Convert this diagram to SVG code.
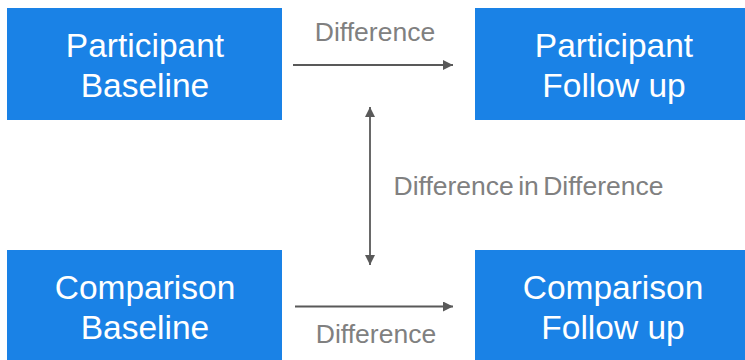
<svg xmlns="http://www.w3.org/2000/svg" width="745" height="360" viewBox="0 0 745 360">
<style>
.box{fill:#1a82e6}
.t{font-family:"Liberation Sans",Arial,sans-serif;font-size:33.5px;fill:#ffffff;text-anchor:middle}
.l{font-family:"Liberation Sans",Arial,sans-serif;font-size:26.5px;fill:#808080;text-anchor:middle}
.c{stroke:#595959;stroke-width:1.8;fill:none}
</style>
<defs>
<marker id="ah" viewBox="0 0 10 10" refX="10" refY="5" markerWidth="10" markerHeight="10" markerUnits="userSpaceOnUse" orient="auto-start-reverse">
<path d="M0,0 L10,5 L0,10 z" fill="#595959"/>
</marker>
</defs>
<rect width="745" height="360" fill="#ffffff"/>
<g id="participant-baseline">
<rect class="box" x="7" y="8" width="275" height="112"/>
<text class="t" x="145" y="57">Participant</text>
<text class="t" x="145" y="97">Baseline</text>
</g>
<g id="participant-followup">
<rect class="box" x="475" y="8" width="275" height="112"/>
<text class="t" x="614" y="57">Participant</text>
<text class="t" x="614" y="97">Follow up</text>
</g>
<g id="comparison-baseline">
<rect class="box" x="7" y="250" width="275" height="112"/>
<text class="t" x="145" y="299">Comparison</text>
<text class="t" x="145" y="339">Baseline</text>
</g>
<g id="comparison-followup">
<rect class="box" x="475" y="250" width="275" height="112"/>
<text class="t" x="613" y="299">Comparison</text>
<text class="t" x="613" y="339">Follow up</text>
</g>
<g id="connectors">
<line class="c" x1="293" y1="65" x2="453" y2="65" marker-end="url(#ah)"/>
<line class="c" x1="295" y1="306.5" x2="453" y2="306.5" marker-end="url(#ah)"/>
<line class="c" x1="370" y1="107" x2="370" y2="265" marker-start="url(#ah)" marker-end="url(#ah)"/>
<text class="l" x="375" y="41">Difference</text>
<text class="l" x="376" y="343">Difference</text>
<text class="l" x="528.5" y="195" word-spacing="-3">Difference in Difference</text>
</g>
</svg>
